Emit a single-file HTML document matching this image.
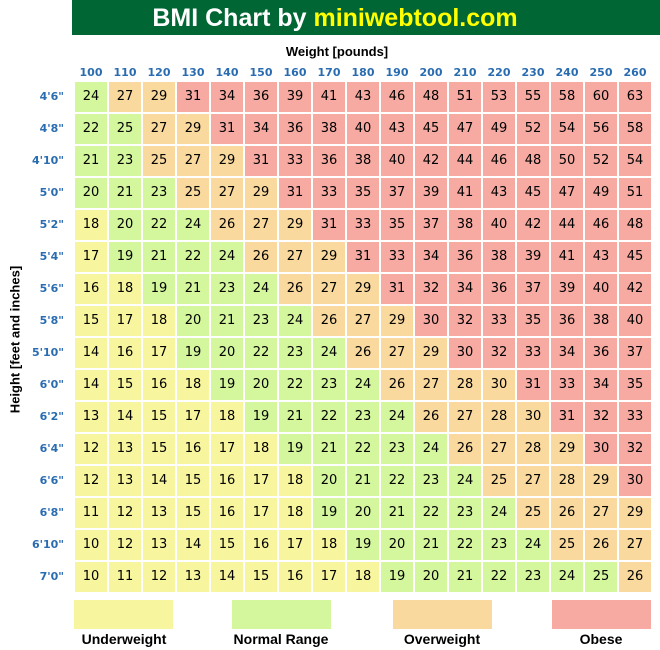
<!DOCTYPE html><html><head><style>
body{margin:0;width:660px;height:650px;background:#fff;position:relative;font-family:"Liberation Sans",Verdana,sans-serif;overflow:hidden}
.a{position:absolute}
.t{left:72px;top:0;width:526px;padding-right:62px;height:35px;background:#006633;color:#fff;font-weight:bold;font-size:25px;text-align:center;line-height:36px;white-space:nowrap}
.c{position:absolute;width:32px;height:30px;line-height:30px;text-align:center;font-size:13px;color:#000;font-family:"DejaVu Sans",sans-serif}
.h{position:absolute;width:34px;text-align:center;font-size:11px;font-weight:bold;color:#2a6cb0;font-family:"DejaVu Sans",sans-serif}
.r{position:absolute;width:60px;text-align:right;left:4px;font-size:11px;font-weight:bold;color:#2a6cb0;font-family:"DejaVu Sans",sans-serif}
.lg{position:absolute;top:600px;width:99px;height:29px}
.ll{position:absolute;top:631px;width:140px;text-align:center;font-weight:bold;font-size:14px}
</style></head><body>
<div class="a t">BMI Chart by <span style="color:#ffff00">miniwebtool.com</span></div>
<div class="a" style="left:237px;top:44px;width:200px;text-align:center;font-weight:bold;font-size:13px">Weight [pounds]</div>
<div class="a" style="left:-85px;top:332px;width:200px;text-align:center;font-weight:bold;font-size:13px;transform:rotate(-90deg)">Height [feet and inches]</div>
<div id="g"></div>
<div class="lg" style="left:74px;background:#f7f59d"></div>
<div class="lg" style="left:232px;background:#d4f79d"></div>
<div class="lg" style="left:393px;background:#f9d99d"></div>
<div class="lg" style="left:552px;background:#f6aaa2"></div>
<div class="ll" style="left:54px">Underweight</div>
<div class="ll" style="left:211px">Normal Range</div>
<div class="ll" style="left:372px">Overweight</div>
<div class="ll" style="left:531px">Obese</div>
<script>
var d=`24 27 29 31 34 36 39 41 43 46 48 51 53 55 58 60 63
22 25 27 29 31 34 36 38 40 43 45 47 49 52 54 56 58
21 23 25 27 29 31 33 36 38 40 42 44 46 48 50 52 54
20 21 23 25 27 29 31 33 35 37 39 41 43 45 47 49 51
18 20 22 24 26 27 29 31 33 35 37 38 40 42 44 46 48
17 19 21 22 24 26 27 29 31 33 34 36 38 39 41 43 45
16 18 19 21 23 24 26 27 29 31 32 34 36 37 39 40 42
15 17 18 20 21 23 24 26 27 29 30 32 33 35 36 38 40
14 16 17 19 20 22 23 24 26 27 29 30 32 33 34 36 37
14 15 16 18 19 20 22 23 24 26 27 28 30 31 33 34 35
13 14 15 17 18 19 21 22 23 24 26 27 28 30 31 32 33
12 13 15 16 17 18 19 21 22 23 24 26 27 28 29 30 32
12 13 14 15 16 17 18 20 21 22 23 24 25 27 28 29 30
11 12 13 15 16 17 18 19 20 21 22 23 24 25 26 27 29
10 12 13 14 15 16 17 18 19 20 21 22 23 24 25 26 27
10 11 12 13 14 15 16 17 18 19 20 21 22 23 24 25 26`.split("\n").map(function(l){return l.split(" ")});
var hl=["4'6\"","4'8\"","4'10\"","5'0\"","5'2\"","5'4\"","5'6\"","5'8\"","5'10\"","6'0\"","6'2\"","6'4\"","6'6\"","6'8\"","6'10\"","7'0\""];
var s="";
for(var j=0;j<17;j++)s+='<div class="h" style="left:'+(74+34*j)+'px;top:66px">'+(100+10*j)+'</div>';
for(var i=0;i<16;i++){var h=54+2*i,y=82+32*i;
s+='<div class="r" style="top:'+(y+8)+'px">'+hl[i]+'</div>';
for(var j=0;j<17;j++){var w=100+10*j,b=703*w/(h*h);
var c=b<18.5?"#f7f59d":b<25?"#d4f79d":b<30?"#f9d99d":"#f6aaa2";
s+='<div class="c" style="left:'+(75+34*j)+'px;top:'+y+'px;background:'+c+'">'+d[i][j]+'</div>';}}
document.getElementById("g").innerHTML=s;
</script>
</body></html>
